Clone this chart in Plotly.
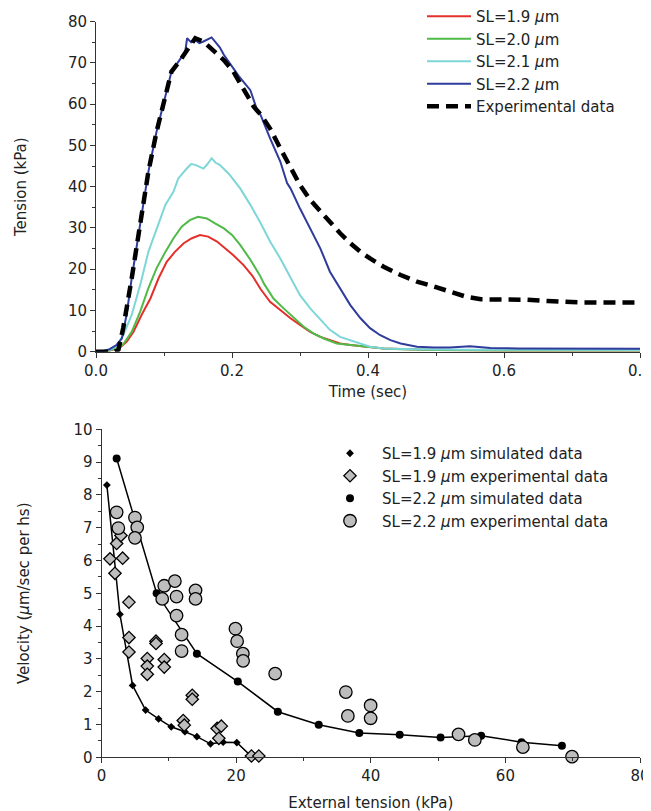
import plotly.graph_objects as go

# ---------------- Top panel data: tension vs time ----------------
t_sl19 = [0, 0.02, 0.035, 0.045, 0.055, 0.067, 0.08, 0.092, 0.104, 0.116, 0.129, 0.141, 0.153, 0.165,
          0.178, 0.19, 0.202, 0.217, 0.23, 0.242, 0.256, 0.271, 0.286, 0.3, 0.315, 0.33, 0.344, 0.359,
          0.374, 0.398, 0.423, 0.5, 0.6, 0.8]
v_sl19 = [0, 0.3, 1.0, 2.4, 4.8, 8.9, 12.9, 17.8, 21.8, 24.2, 26.3, 27.5, 28.3, 27.9,
          26.7, 25.0, 23.4, 21.0, 18.4, 15.2, 12.1, 10.1, 8.1, 6.5, 4.8, 3.6, 2.8, 2.0,
          1.6, 1.2, 0.8, 0.4, 0.3, 0.3]

t_sl20 = [0, 0.02, 0.033, 0.04, 0.0525, 0.065, 0.077, 0.089, 0.102, 0.114, 0.126, 0.138, 0.15, 0.163,
          0.175, 0.188, 0.2, 0.212, 0.227, 0.237, 0.241, 0.247, 0.261, 0.276, 0.291, 0.305, 0.32, 0.335,
          0.354, 0.374, 0.398, 0.423, 0.448, 0.5, 0.6, 0.8]
v_sl20 = [0, 0.3, 1.0, 1.8, 4.8, 9.7, 15.4, 20.2, 24.2, 27.5, 30.3, 31.9, 32.7, 32.3,
          31.1, 29.9, 28.3, 25.9, 22.3, 19.8, 18.5, 16.5, 12.9, 10.5, 8.1, 6.1, 4.4, 3.2,
          2.0, 1.6, 1.2, 0.8, 0.6, 0.4, 0.3, 0.3]

t_sl21 = [0, 0.02, 0.03, 0.04, 0.0525, 0.065, 0.077, 0.089, 0.102, 0.114, 0.121, 0.1335, 0.14, 0.146,
          0.152, 0.158, 0.164, 0.17, 0.176, 0.182, 0.19, 0.197, 0.212, 0.227, 0.242, 0.256, 0.271,
          0.286, 0.3, 0.315, 0.33, 0.344, 0.359, 0.374, 0.389, 0.403, 0.423, 0.472, 0.55, 0.65, 0.8]
v_sl21 = [0, 0.4, 1.3, 4.0, 8.9, 16.2, 24.2, 29.9, 35.6, 38.8, 42.0, 44.4, 45.5, 45.3,
          44.8, 44.4, 45.5, 46.9, 45.8, 45.3, 44.0, 42.8, 39.6, 35.6, 31.2, 26.7, 22.6,
          17.8, 13.7, 10.5, 7.7, 5.3, 3.6, 2.8, 2.0, 1.2, 0.8, 0.6, 0.5, 0.4, 0.4]

t_sl22 = [0, 0.01, 0.02, 0.03, 0.038, 0.045, 0.0525, 0.065, 0.077, 0.089, 0.102, 0.111, 0.124, 0.131,
          0.134, 0.14, 0.146, 0.152, 0.158, 0.164, 0.17, 0.176, 0.182, 0.188, 0.195, 0.202, 0.21,
          0.217, 0.227, 0.236, 0.242, 0.256, 0.271, 0.281, 0.286, 0.3, 0.315, 0.33, 0.344, 0.359,
          0.374, 0.389, 0.403, 0.418, 0.433, 0.448, 0.472, 0.497, 0.52, 0.55, 0.58, 0.62, 0.66,
          0.7, 0.75, 0.8]
v_sl22 = [0, 0.1, 0.6, 1.6, 3.2, 9.0, 17.8, 31.5, 43.6, 53.3, 62.2, 67.9, 71.0, 72.5,
          76.0, 75.0, 75.5, 74.8, 75.2, 75.8, 76.2, 75.0, 73.8, 72.0, 70.5, 68.7, 66.8,
          65.5, 63.4, 59.0, 57.4, 51.7, 46.1, 40.9, 39.6, 34.7, 29.9, 25.0, 19.4, 15.4,
          11.3, 8.1, 5.7, 4.0, 2.8, 2.0, 1.2, 1.0, 1.0, 1.3, 0.9, 0.8, 0.8,
          0.7, 0.7, 0.7]

t_exp = [0, 0.028, 0.033, 0.04, 0.0525, 0.065, 0.077, 0.089, 0.102, 0.111, 0.124, 0.136, 0.146, 0.158,
         0.173, 0.188, 0.202, 0.217, 0.232, 0.242, 0.256, 0.271, 0.286, 0.3, 0.315, 0.33, 0.344,
         0.359, 0.374, 0.389, 0.403, 0.423, 0.448, 0.472, 0.497, 0.521, 0.545, 0.566, 0.605, 0.634,
         0.664, 0.693, 0.717, 0.752, 0.8]
v_exp = [0, 0, 0.5, 5.7, 17.8, 31.5, 43.6, 53.3, 62.2, 67.9, 70.7, 73.5, 76.0, 75.2,
         73.1, 70.7, 67.9, 63.8, 59.4, 57.5, 54.1, 49.3, 44.4, 40.4, 36.8, 33.9, 31.5,
         28.7, 26.3, 24.2, 22.6, 20.6, 18.6, 17.0, 15.8, 14.5, 13.3, 12.7, 12.7, 12.6,
         12.3, 12.0, 11.9, 11.9, 11.9]

# ---------------- Bottom panel data: velocity vs external tension ----------------
sim19_x = [0.8, 2.74, 4.62, 6.55, 8.48, 10.36, 12.39, 14.17, 16.2, 18.07, 20.1, 22.3]
sim19_y = [8.3, 4.36, 2.19, 1.44, 1.17, 0.93, 0.78, 0.63, 0.41, 0.46, 0.45, 0.02]

exp19_x = [1.26, 2.25, 2.89, 3.14, 2.0, 4.08, 4.08, 4.08, 6.8, 6.8, 6.8, 8.09, 8.1, 9.32, 9.32,
           13.48, 13.48, 12.14, 12.3, 17.18, 17.8, 17.43, 22.28, 23.37]
exp19_y = [6.05, 6.52, 6.76, 6.07, 5.61, 4.73, 3.65, 3.21, 3.01, 2.78, 2.53, 3.54, 3.47, 2.98, 2.75,
           1.89, 1.77, 1.12, 0.98, 0.88, 0.95, 0.58, 0.04, 0.04]

sim22_x = [2.25, 8.19, 14.17, 20.25, 26.2, 32.27, 38.3, 44.3, 50.37, 56.4, 62.4, 68.4]
sim22_y = [9.11, 5.0, 3.16, 2.31, 1.39, 0.99, 0.74, 0.69, 0.6, 0.66, 0.46, 0.35]

exp22_x = [2.25, 2.5, 4.97, 5.31, 4.97, 9.32, 9.02, 10.9, 11.15, 11.15, 13.97, 13.97, 11.9, 11.9,
           19.9, 20.15, 21.0, 21.04, 25.8, 36.3, 36.6, 39.98, 39.98, 53.04, 55.46, 62.6, 69.9]
exp22_y = [7.47, 6.99, 7.31, 7.01, 6.69, 5.23, 4.83, 5.37, 4.9, 4.32, 5.09, 4.83, 3.74, 3.24,
           3.92, 3.54, 3.16, 2.94, 2.55, 1.99, 1.26, 1.58, 1.19, 0.7, 0.53, 0.31, 0.02]

FONT = "DejaVu Sans"
TXT = "#222222"
AX = "#333333"

fig = go.Figure()

line_specs = [
    (t_sl19, v_sl19, "SL=1.9 <i>μ</i>m", "#e3302b"),
    (t_sl20, v_sl20, "SL=2.0 <i>μ</i>m", "#4fba47"),
    (t_sl21, v_sl21, "SL=2.1 <i>μ</i>m", "#7dd6d8"),
    (t_sl22, v_sl22, "SL=2.2 <i>μ</i>m", "#2f3c9c"),
]
for tx, vy, name, col in line_specs:
    fig.add_trace(go.Scatter(x=tx, y=vy, mode="lines", name=name,
                             line=dict(color=col, width=2),
                             xaxis="x", yaxis="y", legend="legend"))
fig.add_trace(go.Scatter(x=t_exp, y=v_exp, mode="lines", name="Experimental data",
                         line=dict(color="black", width=4.5, dash="12px,7px"),
                         xaxis="x", yaxis="y", legend="legend"))

# bottom panel: connecting lines of simulated data (no legend entries)
for sx, sy in [(sim19_x, sim19_y), (sim22_x, sim22_y)]:
    fig.add_trace(go.Scatter(x=sx, y=sy, mode="lines", showlegend=False, hoverinfo="skip",
                             line=dict(color="black", width=1.5),
                             xaxis="x2", yaxis="y2"))

fig.add_trace(go.Scatter(x=sim19_x, y=sim19_y, mode="markers",
                         name="SL=1.9 <i>μ</i>m simulated data",
                         marker=dict(symbol="diamond", size=6, color="black"),
                         cliponaxis=False, xaxis="x2", yaxis="y2", legend="legend2"))
fig.add_trace(go.Scatter(x=exp19_x, y=exp19_y, mode="markers",
                         name="SL=1.9 <i>μ</i>m experimental data",
                         marker=dict(symbol="diamond", size=9.5, color="#bdbdbd",
                                     line=dict(color="black", width=1.3)),
                         cliponaxis=False, xaxis="x2", yaxis="y2", legend="legend2"))
fig.add_trace(go.Scatter(x=sim22_x, y=sim22_y, mode="markers",
                         name="SL=2.2 <i>μ</i>m simulated data",
                         marker=dict(symbol="circle", size=8, color="black"),
                         cliponaxis=False, xaxis="x2", yaxis="y2", legend="legend2"))
fig.add_trace(go.Scatter(x=exp22_x, y=exp22_y, mode="markers",
                         name="SL=2.2 <i>μ</i>m experimental data",
                         marker=dict(symbol="circle", size=12.5, color="#bdbdbd",
                                     line=dict(color="black", width=1.3)),
                         cliponaxis=False, xaxis="x2", yaxis="y2", legend="legend2"))

W, H = 651, 811
OFF = 8  # page body margin


def px_x(p):
    return (p - OFF) / W


def px_y(p):
    return 1 - (p - OFF) / H


def axis_common():
    return dict(showline=True, linecolor=AX, linewidth=1, ticks="outside", ticklen=5,
                tickcolor=AX, tickwidth=1, showgrid=False, zeroline=False,
                tickfont=dict(family=FONT, size=15, color=TXT),
                minor=dict(ticks="outside", ticklen=3, tickcolor=AX, tickwidth=1, showgrid=False))


xa = axis_common()
xa.update(domain=[px_x(96), px_x(640)], range=[0, 0.8], tick0=0, dtick=0.2, tickformat=".1f",
          anchor="y", title=dict(text="Time (sec)", standoff=7,
                                 font=dict(family=FONT, size=15, color=TXT)))
xa["minor"]["dtick"] = 0.1
ya = axis_common()
ya.update(domain=[px_y(351.7), px_y(21.7)], range=[0, 80], tick0=0, dtick=10,
          anchor="x", title=dict(text="Tension (kPa)", standoff=37,
                                 font=dict(family=FONT, size=15, color=TXT)))
ya["minor"]["dtick"] = 5

xa2 = axis_common()
xa2.update(domain=[px_x(101.5), px_x(640)], range=[0, 80], tick0=0, dtick=20,
           anchor="y2", title=dict(text="External tension (kPa)", standoff=13,
                                   font=dict(family=FONT, size=15, color=TXT)))
xa2["minor"]["dtick"] = 10
ya2 = axis_common()
ya2.update(domain=[px_y(757.3), px_y(429.3)], range=[0, 10], tick0=0, dtick=1,
           anchor="x2", title=dict(text="Velocity (<i>μ</i>m/sec per hs)", standoff=40,
                                   font=dict(family=FONT, size=15, color=TXT)))
ya2["minor"]["dtick"] = 0.5

fig.update_layout(
    width=W, height=H,
    margin=dict(l=0, r=0, t=0, b=0, autoexpand=False),
    paper_bgcolor="white", plot_bgcolor="white",
    font=dict(family=FONT, size=15, color=TXT),
    xaxis=xa, yaxis=ya, xaxis2=xa2, yaxis2=ya2,
    legend=dict(x=px_x(422), y=px_y(0), xanchor="left", yanchor="top", itemwidth=44,
                bgcolor="rgba(0,0,0,0)", font=dict(family=FONT, size=15, color=TXT),
                tracegroupgap=0),
    legend2=dict(x=px_x(318), y=px_y(437), xanchor="left", yanchor="top", itemwidth=54,
                 bgcolor="rgba(0,0,0,0)", font=dict(family=FONT, size=15, color=TXT),
                 tracegroupgap=0),
    showlegend=True,
)

fig.write_html("out.html")
